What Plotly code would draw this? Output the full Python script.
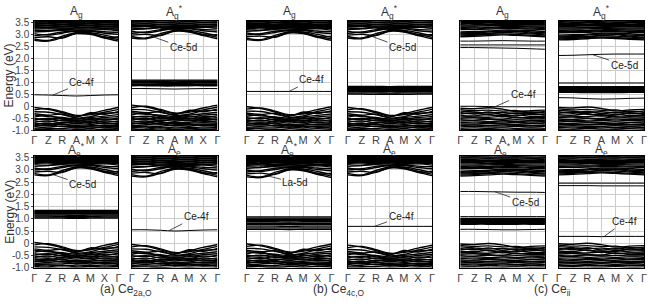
import plotly.graph_objects as go

# ---------------- data ----------------
K_POS = [0, 1, 2, 3, 4, 5, 6]
K_LABELS = ["Γ", "Z", "R", "A", "M", "X", "Γ"]
Y_TICKS = [3.5, 3.0, 2.5, 2.0, 1.5, 1.0, 0.5, 0.0, -0.5, -1.0]
Y_TICK_TEXT = ["3.5", "3.0", "2.5", "2.0", "1.5", "1.0", "0.5", "0", "-0.5", "-1.0"]

# valence manifold (energies relative to the VB top at Γ), values at Γ Z R A M X Γ
VB_A = [
    [0.00, -0.08, -0.22, -0.36, -0.26, -0.12, 0.00],
    [-0.10, -0.05, -0.18, -0.33, -0.30, -0.20, -0.08],
    [-0.18, -0.20, -0.30, -0.40, -0.22, -0.28, -0.16],
    [-0.26, -0.32, -0.28, -0.44, -0.38, -0.24, -0.22],
    [-0.32, -0.38, -0.42, -0.48, -0.42, -0.36, -0.30],
    [-0.40, -0.34, -0.48, -0.52, -0.50, -0.42, -0.38],
    [-0.46, -0.50, -0.44, -0.58, -0.46, -0.52, -0.44],
    [-0.52, -0.46, -0.56, -0.54, -0.58, -0.48, -0.52],
    [-0.56, -0.60, -0.52, -0.62, -0.56, -0.60, -0.58],
    [-0.62, -0.56, -0.64, -0.60, -0.66, -0.56, -0.62],
    [-0.66, -0.70, -0.62, -0.68, -0.62, -0.68, -0.66],
    [-0.72, -0.66, -0.72, -0.74, -0.72, -0.64, -0.72],
    [-0.76, -0.76, -0.68, -0.80, -0.76, -0.74, -0.76],
    [-0.80, -0.72, -0.80, -0.76, -0.82, -0.80, -0.80],
    [-0.86, -0.82, -0.78, -0.86, -0.80, -0.86, -0.84],
    [-0.90, -0.88, -0.88, -0.84, -0.88, -0.82, -0.90],
    [-0.94, -0.92, -0.96, -0.92, -0.94, -0.92, -0.94],
    [-0.98, -1.00, -0.94, -1.00, -0.98, -1.00, -0.98],
    [-1.04, -1.02, -1.04, -1.02, -1.04, -1.02, -1.04],
    [-1.10, -1.08, -1.10, -1.08, -1.10, -1.08, -1.10],
]
VB_C = [
    [0.00, -0.02, 0.02, -0.04, -0.14, -0.10, -0.08],
    [-0.06, -0.10, -0.08, -0.12, -0.10, -0.18, -0.14],
    [-0.12, -0.16, -0.20, -0.18, -0.22, -0.16, -0.20],
    [-0.18, -0.24, -0.16, -0.26, -0.20, -0.26, -0.24],
    [-0.24, -0.20, -0.28, -0.30, -0.32, -0.22, -0.30],
    [-0.30, -0.32, -0.26, -0.36, -0.28, -0.34, -0.34],
    [-0.36, -0.36, -0.38, -0.34, -0.40, -0.38, -0.40],
    [-0.42, -0.40, -0.44, -0.46, -0.38, -0.44, -0.44],
    [-0.48, -0.50, -0.46, -0.50, -0.48, -0.50, -0.50],
    [-0.54, -0.52, -0.56, -0.54, -0.56, -0.54, -0.56],
    [-0.60, -0.58, -0.60, -0.62, -0.60, -0.62, -0.60],
    [-0.66, -0.66, -0.64, -0.66, -0.68, -0.64, -0.66],
    [-0.72, -0.70, -0.72, -0.70, -0.72, -0.72, -0.72],
    [-0.78, -0.76, -0.78, -0.78, -0.76, -0.78, -0.76],
    [-0.84, -0.82, -0.84, -0.82, -0.84, -0.82, -0.84],
    [-0.90, -0.90, -0.88, -0.90, -0.90, -0.88, -0.90],
    [-0.96, -0.94, -0.96, -0.96, -0.94, -0.96, -0.96],
    [-1.02, -1.00, -1.02, -1.00, -1.02, -1.00, -1.02],
    [-1.08, -1.08, -1.06, -1.08, -1.08, -1.06, -1.08],
]
# conduction manifold (energies relative to the CB bottom at Γ)
CB_A = [
    [0.00, -0.03, 0.12, 0.28, 0.25, 0.10, -0.03],
    [0.06, 0.00, 0.18, 0.32, 0.28, 0.15, 0.03],
    [0.12, 0.15, 0.10, 0.30, 0.32, 0.22, 0.10],
    [0.20, 0.25, 0.35, 0.38, 0.30, 0.12, 0.15],
    [0.28, 0.22, 0.30, 0.40, 0.38, 0.30, 0.25],
    [0.35, 0.38, 0.42, 0.36, 0.40, 0.36, 0.33],
    [0.42, 0.40, 0.45, 0.44, 0.43, 0.45, 0.40],
    [0.47, 0.48, 0.46, 0.48, 0.47, 0.48, 0.46],
    [0.51, 0.52, 0.50, 0.51, 0.52, 0.50, 0.51],
    [0.55, 0.54, 0.56, 0.55, 0.54, 0.56, 0.55],
    [0.59, 0.60, 0.58, 0.59, 0.60, 0.58, 0.59],
    [0.63, 0.62, 0.64, 0.63, 0.62, 0.64, 0.63],
    [0.67, 0.68, 0.66, 0.67, 0.68, 0.66, 0.67],
    [0.71, 0.70, 0.72, 0.71, 0.70, 0.72, 0.71],
    [0.75, 0.76, 0.74, 0.75, 0.76, 0.74, 0.75],
    [0.79, 0.78, 0.80, 0.79, 0.78, 0.80, 0.79],
    [0.83, 0.84, 0.82, 0.83, 0.84, 0.82, 0.83],
    [0.87, 0.86, 0.88, 0.87, 0.86, 0.88, 0.87],
]
CB_C = [
    [0.00, 0.02, 0.05, 0.08, 0.06, 0.03, 0.00],
    [0.04, 0.06, 0.10, 0.12, 0.10, 0.06, 0.04],
    [0.08, 0.10, 0.14, 0.18, 0.16, 0.12, 0.08],
    [0.12, 0.14, 0.12, 0.20, 0.22, 0.16, 0.12],
    [0.16, 0.18, 0.20, 0.24, 0.24, 0.20, 0.18],
    [0.20, 0.22, 0.24, 0.28, 0.28, 0.26, 0.22],
    [0.30, 0.31, 0.32, 0.34, 0.34, 0.32, 0.30],
    [0.35, 0.36, 0.36, 0.38, 0.38, 0.36, 0.35],
    [0.40, 0.41, 0.40, 0.42, 0.43, 0.41, 0.40],
    [0.45, 0.45, 0.46, 0.47, 0.46, 0.45, 0.45],
    [0.50, 0.50, 0.51, 0.51, 0.50, 0.50, 0.50],
    [0.55, 0.55, 0.54, 0.55, 0.55, 0.56, 0.55],
    [0.60, 0.59, 0.60, 0.60, 0.60, 0.59, 0.60],
    [0.64, 0.65, 0.64, 0.64, 0.65, 0.64, 0.64],
    [0.69, 0.69, 0.70, 0.69, 0.69, 0.70, 0.69],
    [0.74, 0.74, 0.73, 0.74, 0.74, 0.73, 0.74],
    [0.78, 0.79, 0.78, 0.78, 0.79, 0.78, 0.78],
    [0.83, 0.83, 0.84, 0.83, 0.83, 0.84, 0.83],
    [0.88, 0.88, 0.88, 0.89, 0.88, 0.88, 0.88],
    [0.93, 0.93, 0.93, 0.93, 0.93, 0.93, 0.93],
]

PANELS = ["a_Ag", "a_Ags", "b_Ag", "b_Ags", "c_Ag", "c_Ags",
          "a_Aes", "a_Ae", "b_Aes", "b_Ae", "c_Aes", "c_Ae"]
PANEL_TITLES = ["A<sub>g</sub>", "A<sub>g</sub><sup>*</sup>", "A<sub>g</sub>", "A<sub>g</sub><sup>*</sup>",
                "A<sub>g</sub>", "A<sub>g</sub><sup>*</sup>",
                "A<sub>e</sub><sup>*</sup>", "A<sub>e</sub>", "A<sub>e</sub><sup>*</sup>", "A<sub>e</sub>",
                "A<sub>e</sub><sup>*</sup>", "A<sub>e</sub>"]
VB_SET = ["A", "A", "A", "A", "C", "C", "A", "A", "A", "A", "C", "C"]
VB_TOP = [-0.05, 0.05, -0.02, -0.05, -0.08, -0.05, 0.03, -0.05, -0.03, -0.08, -0.03, -0.02]
CB_SET = ["A", "A", "A", "A", "C", "C", "A", "A", "A", "A", "C", "C"]
CB_BOTTOM = [2.75, 2.85, 2.78, 2.85, 2.90, 2.77, 2.80, 2.75, 2.72, 2.80, 2.75, 2.80]

# isolated defect / impurity levels (thin lines)
LEVEL_BANDS = {
    "a_Ag": [[0.48, 0.47, 0.45, 0.43, 0.45, 0.47, 0.48]],
    "a_Ags": [[0.74, 0.74, 0.73, 0.72, 0.73, 0.74, 0.74]],
    "b_Ag": [[0.62, 0.62, 0.62, 0.62, 0.62, 0.62, 0.62]],
    "b_Ags": [],
    "c_Ag": [[0.00, 0.00, -0.01, -0.02, -0.02, -0.02, -0.03],
             [2.72, 2.72, 2.73, 2.74, 2.73, 2.72, 2.72],
             [2.56, 2.56, 2.56, 2.56, 2.56, 2.56, 2.56],
             [2.45, 2.45, 2.44, 2.43, 2.42, 2.40, 2.38]],
    "c_Ags": [[2.12, 2.13, 2.15, 2.17, 2.18, 2.18, 2.18],
              [0.97, 0.97, 0.97, 0.97, 0.97, 0.97, 0.97],
              [0.36, 0.35, 0.32, 0.30, 0.31, 0.33, 0.34]],
    "a_Aes": [],
    "a_Ae": [[0.55, 0.55, 0.53, 0.50, 0.52, 0.54, 0.55]],
    "b_Aes": [],
    "b_Ae": [[0.69, 0.69, 0.69, 0.69, 0.69, 0.69, 0.69]],
    "c_Aes": [[2.12, 2.12, 2.11, 2.10, 2.09, 2.09, 2.08],
              [1.09, 1.09, 1.09, 1.09, 1.09, 1.09, 1.09],
              [0.57, 0.57, 0.56, 0.55, 0.55, 0.56, 0.57]],
    "c_Ae": [[2.46, 2.46, 2.46, 2.46, 2.46, 2.46, 2.46],
             [2.36, 2.36, 2.36, 2.35, 2.35, 2.35, 2.35],
             [0.28, 0.28, 0.28, 0.27, 0.28, 0.28, 0.28]],
}
# dense mid-gap band blocks
BLOCK_BANDS = {
    "a_Ags": [[0.86, 0.86, 0.85, 0.85, 0.86, 0.86, 0.86],
              [0.89, 0.89, 0.88, 0.88, 0.89, 0.89, 0.89],
              [0.92, 0.92, 0.92, 0.91, 0.92, 0.92, 0.92],
              [0.97, 0.97, 0.96, 0.96, 0.96, 0.97, 0.97],
              [1.00, 1.00, 1.00, 0.99, 1.00, 1.00, 1.00],
              [1.03, 1.03, 1.03, 1.02, 1.03, 1.03, 1.03],
              [1.06, 1.06, 1.06, 1.06, 1.06, 1.06, 1.06],
              [1.09, 1.09, 1.09, 1.09, 1.09, 1.09, 1.09]],
    "b_Ags": [[0.51, 0.51, 0.50, 0.50, 0.50, 0.51, 0.51],
              [0.56, 0.56, 0.56, 0.55, 0.56, 0.56, 0.56],
              [0.62, 0.62, 0.61, 0.61, 0.61, 0.62, 0.62],
              [0.66, 0.66, 0.66, 0.65, 0.66, 0.66, 0.66],
              [0.70, 0.70, 0.70, 0.70, 0.70, 0.70, 0.70],
              [0.74, 0.74, 0.74, 0.73, 0.74, 0.74, 0.74],
              [0.78, 0.78, 0.78, 0.78, 0.78, 0.78, 0.78],
              [0.83, 0.83, 0.83, 0.82, 0.83, 0.83, 0.83]],
    "c_Ags": [[0.58, 0.58, 0.57, 0.57, 0.57, 0.58, 0.58],
              [0.62, 0.62, 0.62, 0.61, 0.62, 0.62, 0.62],
              [0.66, 0.66, 0.66, 0.66, 0.66, 0.66, 0.66],
              [0.70, 0.70, 0.70, 0.70, 0.70, 0.70, 0.70],
              [0.74, 0.74, 0.74, 0.74, 0.74, 0.74, 0.74],
              [0.78, 0.78, 0.78, 0.78, 0.78, 0.78, 0.78],
              [0.82, 0.82, 0.82, 0.82, 0.82, 0.82, 0.82]],
    "a_Aes": [[1.03, 1.03, 1.03, 1.02, 1.03, 1.03, 1.03],
              [1.07, 1.07, 1.07, 1.06, 1.07, 1.07, 1.07],
              [1.11, 1.11, 1.10, 1.10, 1.10, 1.11, 1.11],
              [1.15, 1.15, 1.15, 1.14, 1.15, 1.15, 1.15],
              [1.19, 1.19, 1.19, 1.19, 1.19, 1.19, 1.19],
              [1.23, 1.23, 1.23, 1.23, 1.23, 1.23, 1.23],
              [1.27, 1.27, 1.27, 1.26, 1.27, 1.27, 1.27],
              [1.31, 1.31, 1.31, 1.31, 1.31, 1.31, 1.31],
              [1.34, 1.34, 1.34, 1.34, 1.34, 1.34, 1.34]],
    "b_Aes": [[0.57, 0.57, 0.57, 0.56, 0.57, 0.57, 0.57],
              [0.63, 0.63, 0.63, 0.63, 0.63, 0.63, 0.63],
              [0.70, 0.70, 0.70, 0.69, 0.70, 0.70, 0.70],
              [0.76, 0.76, 0.76, 0.76, 0.76, 0.76, 0.76],
              [0.82, 0.82, 0.82, 0.82, 0.82, 0.82, 0.82],
              [0.88, 0.88, 0.88, 0.87, 0.88, 0.88, 0.88],
              [0.93, 0.93, 0.93, 0.93, 0.93, 0.93, 0.93],
              [0.98, 0.98, 0.98, 0.98, 0.98, 0.98, 0.98],
              [1.03, 1.03, 1.03, 1.03, 1.03, 1.03, 1.03],
              [1.08, 1.08, 1.08, 1.08, 1.08, 1.08, 1.08]],
    "c_Aes": [[0.78, 0.78, 0.78, 0.77, 0.78, 0.78, 0.78],
              [0.82, 0.82, 0.82, 0.82, 0.82, 0.82, 0.82],
              [0.86, 0.86, 0.86, 0.86, 0.86, 0.86, 0.86],
              [0.90, 0.90, 0.90, 0.90, 0.90, 0.90, 0.90],
              [0.94, 0.94, 0.94, 0.94, 0.94, 0.94, 0.94],
              [0.98, 0.98, 0.98, 0.98, 0.98, 0.98, 0.98],
              [1.01, 1.01, 1.01, 1.01, 1.01, 1.01, 1.01]],
}

# band labels: text, arrow target (k, E), text position (k, E)
LABELS = {
    "a_Ag": ("Ce-4f", 1.3, 0.46, 3.4, 0.98),
    "a_Ags": ("Ce-5d", 1.4, 2.92, 3.6, 2.45),
    "b_Ag": ("Ce-4f", 3.0, 0.62, 4.6, 1.1),
    "b_Ags": ("Ce-5d", 1.7, 2.92, 3.9, 2.45),
    "c_Ag": ("Ce-4f", 2.5, -0.01, 4.45, 0.5),
    "c_Ags": ("Ce-5d", 2.4, 2.15, 4.6, 1.72),
    "a_Aes": ("Ce-5d", 1.4, 2.8, 3.45, 2.4),
    "a_Ae": ("Ce-4f", 2.65, 0.53, 4.5, 1.08),
    "b_Aes": ("La-5d", 1.35, 2.78, 3.45, 2.47),
    "b_Ae": ("Ce-4f", 1.9, 0.69, 3.8, 1.08),
    "c_Aes": ("Ce-5d", 2.45, 2.11, 4.6, 1.68),
    "c_Ae": ("Ce-4f", 3.2, 0.28, 4.6, 0.88),
}

CAPTIONS = ["(a) Ce<sub>2a,O</sub>", "(b) Ce<sub>4c,O</sub>", "(c) Ce<sub>ii</sub>"]

# ---------------- layout ----------------
W, H = 650, 307
X_DOM_PX = [(31.5, 116.5), (130, 216.5), (246, 331.5), (348, 433), (461.5, 547), (561, 647)]
Y_DOM_PX = [(17.3, 130.5), (157.2, 272.5)]
TITLE_Y_PX = [8, 151]
Y_RANGE = [-1.0, 3.57]
FONT = "Liberation Sans, Arial, sans-serif"


def band_trace(bands, base, xa, ya, width):
    xs, ys = [], []
    for band in bands:
        xs += K_POS + [None]
        ys += [base + e for e in band] + [None]
    return go.Scatter(x=xs, y=ys, mode="lines", xaxis=xa, yaxis=ya,
                      line=dict(color="black", width=width, shape="spline", smoothing=1.0),
                      showlegend=False, hoverinfo="skip")


fig = go.Figure()
annotations = []

for i, name in enumerate(PANELS):
    row, col = divmod(i, 6)
    n = i + 1
    xa = "x" if n == 1 else f"x{n}"
    ya = "y" if n == 1 else f"y{n}"
    vb = VB_A if VB_SET[i] == "A" else VB_C
    cb = CB_A if CB_SET[i] == "A" else CB_C
    fig.add_trace(band_trace(vb, VB_TOP[i], xa, ya, 1.4))
    fig.add_trace(band_trace(cb, CB_BOTTOM[i], xa, ya, 1.4))
    if BLOCK_BANDS.get(name):
        fig.add_trace(band_trace(BLOCK_BANDS[name], 0.0, xa, ya, 1.4))
    if LEVEL_BANDS.get(name):
        fig.add_trace(band_trace(LEVEL_BANDS[name], 0.0, xa, ya, 1.0))
    x0, x1 = X_DOM_PX[col]
    y0, y1 = Y_DOM_PX[row]
    xdom = [x0 / W, x1 / W]
    ydom = [1 - y1 / H, 1 - y0 / H]
    fig.update_layout(**{
        ("xaxis" if n == 1 else f"xaxis{n}"): dict(
            domain=xdom, range=[0, 6], anchor=ya, tickvals=K_POS, ticktext=K_LABELS,
            showgrid=True, gridcolor="#cccccc", gridwidth=1, zeroline=False,
            showline=True, linecolor="black", linewidth=1, mirror=True,
            ticks="", tickfont=dict(family=FONT, size=11, color="#444")),
        ("yaxis" if n == 1 else f"yaxis{n}"): dict(
            domain=ydom, range=Y_RANGE, anchor=xa, tickvals=Y_TICKS, ticktext=Y_TICK_TEXT,
            showticklabels=(col == 0), showgrid=True, gridcolor="#cccccc", gridwidth=1,
            zeroline=False, showline=True, linecolor="black", linewidth=1, mirror=True,
            ticks="outside" if col == 0 else "", ticklen=2, tickcolor="#444",
            tickfont=dict(family=FONT, size=10, color="#444")),
    })
    annotations.append(dict(text=PANEL_TITLES[i], xref="paper", yref="paper",
                            x=(xdom[0] + xdom[1]) / 2, y=1 - TITLE_Y_PX[row] / H,
                            xanchor="center", yanchor="middle",
                            showarrow=False, font=dict(family=FONT, size=12, color="#333")))
    txt, kt, et, kx, ey = LABELS[name]
    annotations.append(dict(text=txt, xref=xa, yref=ya, x=kt, y=et, axref=xa, ayref=ya,
                            ax=kx, ay=ey, showarrow=True, arrowhead=0, arrowwidth=0.8,
                            arrowcolor="#222", font=dict(family=FONT, size=10, color="#222")))

for row in range(2):
    y0, y1 = Y_DOM_PX[row]
    annotations.append(dict(text="Energy (eV)", xref="paper", yref="paper",
                            x=7 / W, y=1 - (y0 + y1) / 2 / H, textangle=-90,
                            xanchor="center", yanchor="middle", showarrow=False,
                            font=dict(family=FONT, size=12, color="#333")))

for g in range(3):
    xl = X_DOM_PX[2 * g][0]
    xr = X_DOM_PX[2 * g + 1][1]
    annotations.append(dict(text=CAPTIONS[g], xref="paper", yref="paper",
                            x=(xl + xr) / 2 / W, y=1 - 296 / H,
                            xanchor="center", yanchor="middle", showarrow=False,
                            font=dict(family=FONT, size=12, color="#333")))

fig.update_layout(width=W, height=H, margin=dict(l=0, r=0, t=0, b=0),
                  paper_bgcolor="white", plot_bgcolor="white",
                  annotations=annotations, showlegend=False)

fig.write_html("out.html")
